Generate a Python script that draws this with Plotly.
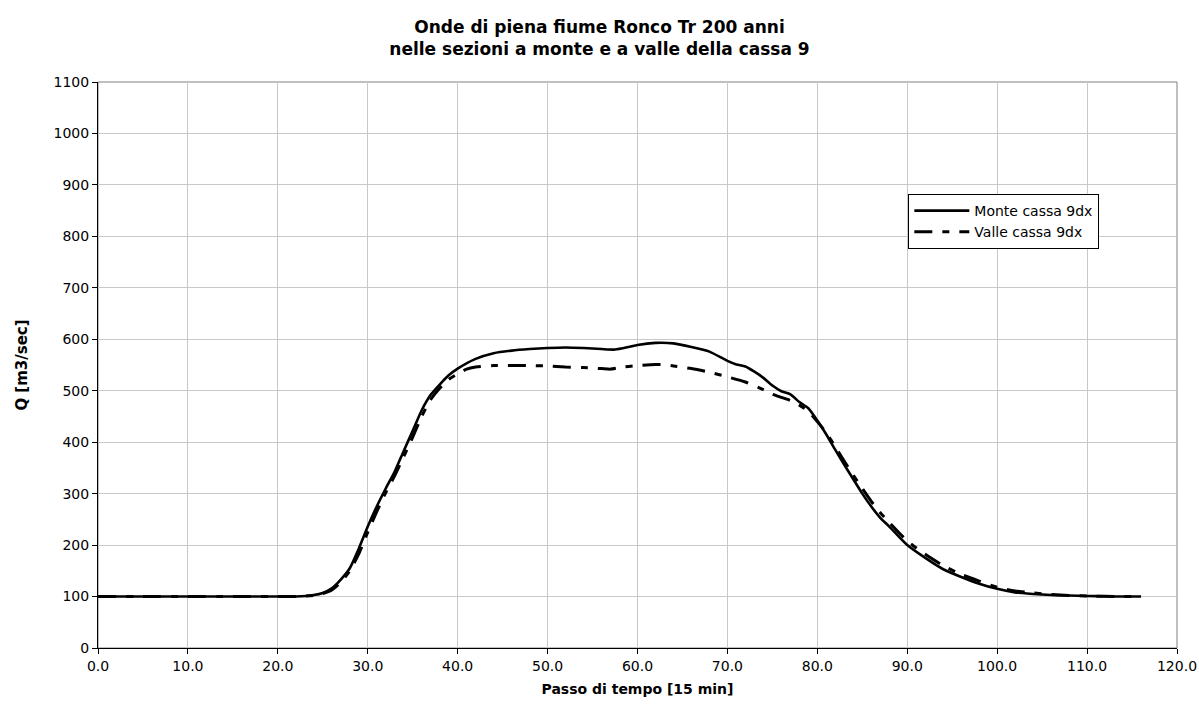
import plotly.graph_objects as go

t_monte = [0, 5, 10, 15, 20, 22, 24, 25, 26, 27, 28, 29, 30, 31, 32, 33, 34, 35, 36, 37, 38, 39, 40,
           42, 44, 46, 48, 50, 52, 54, 56, 57.5, 59, 60, 62, 64, 66, 68, 70, 71, 72, 73, 74, 75, 76, 77,
           78, 79, 80, 81, 82, 83, 84, 85, 86, 87, 88, 90, 92, 94, 96, 98, 100, 102, 104, 106, 108, 110,
           112, 114, 116]
q_monte = [100, 100, 100, 100, 100, 100, 103, 107, 116, 133, 155, 193, 236, 275, 310, 343, 383, 422, 462,
           492, 512, 530, 543, 562, 573, 578, 581, 583, 584, 583, 581, 580, 585, 589, 593, 592, 585, 576,
           558, 551, 547, 537, 525, 510, 499, 493, 478, 466, 442, 415, 385, 356, 328, 300, 275, 253, 236,
           200, 175, 153, 138, 125, 115, 108, 105, 103, 102, 101, 100.5, 100, 100]

t_valle = [0, 5, 10, 15, 20, 22, 24, 25, 26, 27, 28, 29, 30, 31, 32, 33, 34, 35, 36, 37, 38, 39, 40, 41,
           42, 44, 46, 48, 50, 52, 54, 56, 57, 58, 60, 62, 63, 64, 66, 68, 70, 72, 74, 75, 76, 77, 78, 79,
           80, 81, 82, 83, 84, 85, 86, 87, 88, 90, 92, 94, 96, 98, 100, 102, 104, 106, 108, 110, 112, 114,
           116]
q_valle = [100, 100, 100, 100, 100, 100, 102, 106, 113, 128, 150, 183, 225, 265, 302, 335, 372, 410, 450,
           483, 505, 522, 533, 542, 546, 549, 549, 549, 548, 546, 545, 543, 542, 545, 549, 551, 551, 548,
           543, 536, 527, 517, 502, 493, 487, 481, 472, 460, 440, 418, 391, 363, 336, 310, 285, 263, 244,
           208, 182, 160, 143, 130, 118, 111, 107, 104, 102, 101, 100.5, 100, 100]

x_ticks = [0, 10, 20, 30, 40, 50, 60, 70, 80, 90, 100, 110, 120]
y_ticks = [0, 100, 200, 300, 400, 500, 600, 700, 800, 900, 1000, 1100]

FONT = "DejaVu Sans, Arial, sans-serif"

fig = go.Figure()
fig.add_trace(go.Scatter(x=t_monte, y=q_monte, mode="lines", name="Monte cassa 9dx",
                         line=dict(color="black", width=2.6, shape="spline", smoothing=0.6)))
fig.add_trace(go.Scatter(x=t_valle, y=q_valle, mode="lines", name="Valle cassa 9dx",
                         line=dict(color="black", width=3, shape="spline", smoothing=0.6,
                                   dash="18px,10px,7px,10px")))

fig.update_layout(
    width=1199, height=724,
    paper_bgcolor="white", plot_bgcolor="white",
    margin=dict(l=98, r=22, t=82, b=76, autoexpand=False),
    font=dict(family=FONT, size=14, color="black"),
    title=dict(text="<b>Onde di piena fiume Ronco Tr 200 anni<br>nelle sezioni a monte e a valle della cassa 9</b>",
               x=0.5, xanchor="center", yref="container", y=1 - 33 / 724, yanchor="middle",
               font=dict(family=FONT, size=17, color="black"), automargin=False),
    showlegend=True,
    legend=dict(x=0.751, y=0.802, xanchor="left", yanchor="top",
                bgcolor="white", bordercolor="black", borderwidth=1,
                font=dict(family=FONT, size=14, color="black"),
                itemwidth=55, tracegroupgap=0),
    xaxis=dict(range=[0, 120], tickmode="array", tickvals=x_ticks,
               ticktext=[f"{v:.1f}" for v in x_ticks],
               showgrid=True, gridcolor="#c8c8c8", gridwidth=1,
               showline=True, linecolor="black", linewidth=1,
               ticks="outside", ticklen=5, tickcolor="black",
               zeroline=False, automargin=False,
               title=dict(text="<b>Passo di tempo [15 min]</b>", font=dict(family=FONT, size=14), standoff=11),
               tickfont=dict(family=FONT, size=14)),
    yaxis=dict(range=[0, 1100], tickmode="array", tickvals=y_ticks,
               showgrid=True, gridcolor="#c8c8c8", gridwidth=1,
               showline=True, linecolor="black", linewidth=1,
               ticks="outside", ticklen=5, tickcolor="black",
               zeroline=False, automargin=False,
               title=dict(text="<b>Q [m3/sec]</b>", font=dict(family=FONT, size=15), standoff=22),
               tickfont=dict(family=FONT, size=14)),
)
fig.add_shape(type="rect", xref="paper", yref="paper", x0=0, y0=0, x1=1, y1=1,
              line=dict(color="#808080", width=1), layer="below")

fig.write_html("out.html", config={"displayModeBar": False},
               post_script="document.body.style.margin='0px';")
